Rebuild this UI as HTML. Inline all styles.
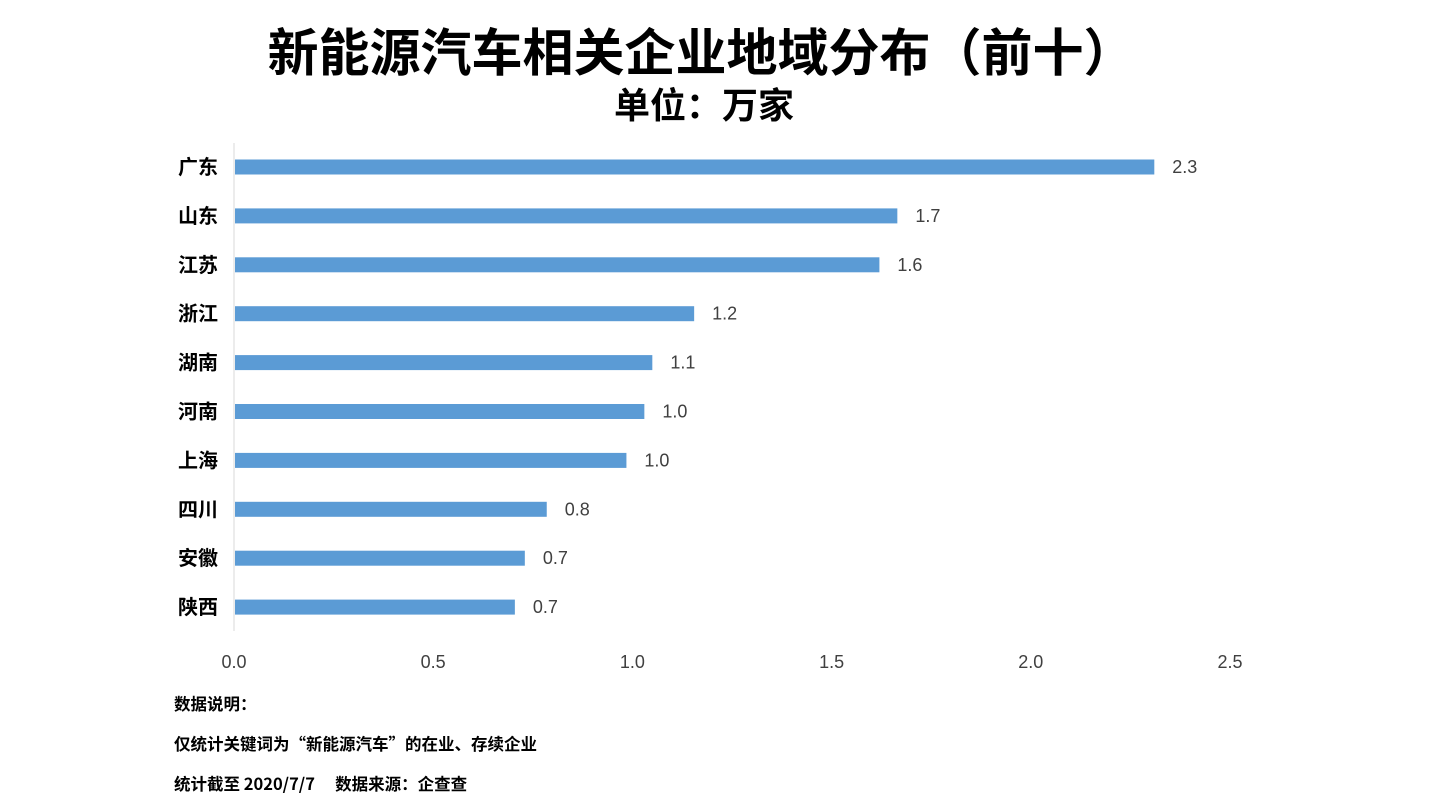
<!DOCTYPE html>
<html><head><meta charset="utf-8"><style>
body{margin:0;background:#fff;}
svg{display:block;font-family:"Liberation Sans","Noto Sans CJK SC",sans-serif;}
.cjk{font-family:"Noto Sans CJK SC","Liberation Sans",sans-serif;}
</style></head><body>
<svg id="c" width="1437" height="807">
<text x="701" y="71" text-anchor="middle" font-size="51" font-weight="bold" fill="#000" class="cjk">新能源汽车相关企业地域分布（前十）</text>
<text x="704" y="118" text-anchor="middle" font-size="36" font-weight="bold" fill="#000" class="cjk">单位：万家</text>
<g id="bars"></g>
<text x="174" y="710" font-size="16.5" font-weight="bold" class="cjk">数据说明：</text>
<text x="174" y="750" font-size="16.5" font-weight="bold" class="cjk">仅统计关键词为“新能源汽车”的在业、存续企业</text>
<text x="174" y="790" font-size="16.5" font-weight="bold" class="cjk">统计截至 2020/7/7　 数据来源：企查查</text>
</svg>
<script>
const categories=["广东","山东","江苏","浙江","湖南","河南","上海","四川","安徽","陕西"];
const values=[2.31,1.665,1.62,1.155,1.05,1.03,0.985,0.785,0.73,0.705];
const valueLabels=["2.3","1.7","1.6","1.2","1.1","1.0","1.0","0.8","0.7","0.7"];
const ticks=[0,0.5,1.0,1.5,2.0,2.5];
const x0=234,x1=1230,xMax=2.5,yTop=143,step=48.9;
const xs=v=>x0+(x1-x0)*v/xMax;
const yc=i=>yTop+24+i*step;
const ns="http://www.w3.org/2000/svg";
const g=document.getElementById('bars');
function mk(t,a,txt){const e=document.createElementNS(ns,t);for(const k in a)e.setAttribute(k,a[k]);if(txt!=null)e.textContent=txt;g.appendChild(e);return e;}
const ax=mk('line',{x1:x0,x2:x0,y1:yTop,y2:631,stroke:'#d9d9d9','stroke-width':1});


categories.forEach((c,i)=>{
 const r=mk('rect',{x:x0+1,y:yc(i)-7.5,width:xs(values[i])-x0-1,height:15,fill:'#5b9bd5'});
 
 
 const l=mk('text',{x:218,y:yc(i)+7,'text-anchor':'end','font-size':20,'font-weight':'bold',fill:'#000',class:'cjk'},c);
 
 
 const v=mk('text',{x:xs(values[i])+18,y:yc(i)+6,'font-size':18,fill:'#404040'},valueLabels[i]);
 
 
});
ticks.forEach(t=>{
 const e=mk('text',{x:xs(t),y:668,'text-anchor':'middle','font-size':18,fill:'#404040'},t.toFixed(1));
 
 
});
</script>
</body></html>
